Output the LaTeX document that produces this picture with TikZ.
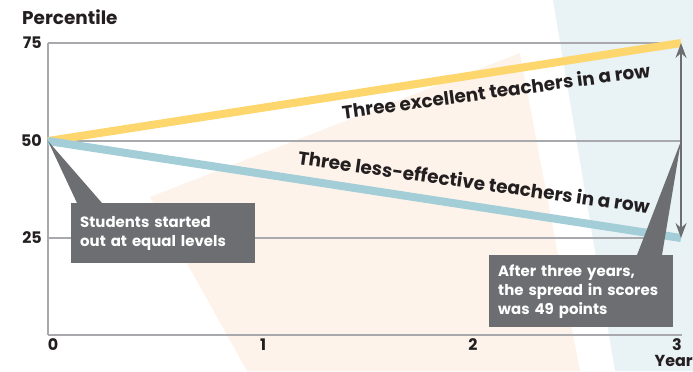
\documentclass[tikz,border=0pt]{standalone}
\usepackage{fontspec}
\setmainfont{Poppins}
\usetikzlibrary{arrows.meta}
\definecolor{txt}{HTML}{231F20}
\definecolor{ylw}{HTML}{FDD66E}
\definecolor{blu}{HTML}{A3CDD7}
\definecolor{dgray}{HTML}{6D6E71}
\definecolor{grid}{HTML}{A7A9AC}
\definecolor{peach}{HTML}{FDF3EA}
\definecolor{lblue}{HTML}{E9F2F5}
\tikzset{
  lbl/.style={text=txt,font=\bfseries\fontsize{16}{18}\selectfont,inner sep=0pt},
  serieslbl/.style={text=txt,font=\bfseries\fontsize{18.5}{20}\selectfont,inner sep=0pt},
  gridline/.style={draw=grid,line width=1.2bp},
  series/.style={line width=8bp},
  callout/.style={fill=dgray,text=white,font=\bfseries\fontsize{15}{19}\selectfont,
    anchor=north west,align=left,inner xsep=9bp,inner ysep=0pt},
}
\begin{document}
\begin{tikzpicture}[x=1bp,y=-1bp]
\useasboundingbox (0,0) rectangle (693,371);
% backgrounds
\fill[peach] (520,53) -- (150,197) -- (247,371) -- (580,371) -- cycle;
\fill[lblue] (553,0) -- (693,0) -- (693,371) -- (615,371) -- cycle;
% coordinates
\coordinate (O) at (48,141);
\coordinate (T75) at (48,43);
\coordinate (T25) at (48,238);
\coordinate (B0) at (48,335);
\coordinate (R75) at (681,43);
\coordinate (R50) at (681,141);
\coordinate (R25) at (681,238);
\coordinate (R0) at (682,335);
% grid
\draw[gridline] (T75) -- (R75);
\draw[gridline] (O) -- (R50);
\draw[gridline] (T25) -- (R25);
\draw[gridline] (T75) -- (B0);
\draw[gridline,line width=1.6bp] (B0) -- (R0);
% axis labels
\node[lbl,font=\bfseries\fontsize{18.5}{20}\selectfont,anchor=base west] (ptitle) at (22,24.5) {Percentile};
\node[lbl,anchor=east] (l75) at (42,43) {75};
\node[lbl,anchor=east] (l50) at (42,141) {50};
\node[lbl,anchor=east] (l25) at (42,238) {25};
\node[lbl] (x0) at (53,345) {0};
\node[lbl] (x1) at (263,345) {1};
\node[lbl] (x2) at (473,345) {2};
\node[lbl] (x3) at (677,345) {3};
\node[lbl,anchor=base east] (xtitle) at (693,366.5) {Year};
% series
\draw[series,ylw] (O) -- (R75);
\draw[series,blu] (O) -- (R25);
\node[serieslbl,anchor=base,rotate=7.8] (ylbl) at (497,98) {Three excellent teachers in a row};
\node[serieslbl,anchor=base,rotate=-8.0] (blbl) at (473,189) {Three less-effective teachers in a row};
% spread arrow
\draw[dgray,line width=1.5bp,{Stealth[length=15bp,width=11bp,inset=5bp]}-{Stealth[length=15bp,width=11bp,inset=5bp]}] (R75) -- (R25);
% callouts
\node[callout,minimum width=184bp,minimum height=60bp,text width=166bp] (c1) at (71,203) {Students started\\out at equal levels};
\fill[dgray] (O) -- ([xshift=6bp]c1.north west) -- ([xshift=31bp]c1.north west) -- cycle;
\node[callout,minimum width=184bp,minimum height=72bp,text width=166bp] (c2) at (489,255) {After three years,\\the spread in scores\\was 49 points};
\fill[dgray] (R50) -- ([xshift=148bp]c2.north west) -- ([xshift=173bp]c2.north west) -- cycle;
\end{tikzpicture}
\end{document}
